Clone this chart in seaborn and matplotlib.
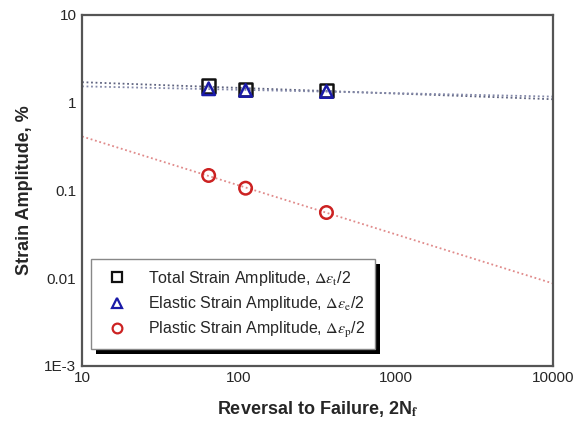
import numpy as np
import pandas as pd
import matplotlib
matplotlib.use("Agg")
import matplotlib.pyplot as plt
from matplotlib.patches import Rectangle
import seaborn as sns

# Reversals to failure and measured strain amplitudes (%)
reversals = [64, 110, 360]
total_strain = [1.55, 1.42, 1.37]
elastic_strain = [1.44, 1.38, 1.34]
plastic_strain = [0.148, 0.106, 0.056]

x_ticks = [10, 100, 1000, 10000]
x_tick_labels = ["10", "100", "1000", "10000"]
y_ticks = [0.001, 0.01, 0.1, 1, 10]
y_tick_labels = ["1E-3", "0.01", "0.1", "1", "10"]

sns.set_style("white")
plt.rcParams["font.family"] = ["Liberation Sans", "DejaVu Sans"]
plt.rcParams["mathtext.fontset"] = "stix"

fig = plt.figure(figsize=(5.86, 4.26), dpi=100)
ax = fig.add_axes([0.140, 0.141, 0.804, 0.824])
ax.set_xscale("log")
ax.set_yscale("log")

# Power-law fits drawn as dotted lines across the whole range
grid = np.logspace(1, 4, 60)
fit_styles = [
    (total_strain, "#5f6480"),
    (elastic_strain, "#8388a8"),
    (plastic_strain, "#e08a8a"),
]
for values, color in fit_styles:
    b, a = np.polyfit(np.log10(reversals), np.log10(values), 1)
    fit_df = pd.DataFrame({"x": grid, "y": 10 ** (a + b * np.log10(grid))})
    sns.lineplot(data=fit_df, x="x", y="y", ax=ax, color=color,
                 linestyle=(0, (1, 1.5)), linewidth=1.3, legend=False)

series = [
    ("Total Strain Amplitude, " + r"$\Delta\varepsilon_\mathrm{t}$" + "/2", total_strain, "s", "#111111", 9.5),
    ("Elastic Strain Amplitude, " + r"$\Delta\varepsilon_\mathrm{e}$" + "/2", elastic_strain, "^", "#1a1aa8", 9),
    ("Plastic Strain Amplitude, " + r"$\Delta\varepsilon_\mathrm{p}$" + "/2", plastic_strain, "o", "#cc2222", 9),
]
handles = []
for label, values, marker, color, size in series:
    df = pd.DataFrame({"x": reversals, "y": values})
    sns.scatterplot(data=df, x="x", y="y", ax=ax, marker=marker, s=size ** 2,
                    facecolor="none", edgecolor=color, linewidth=1.8, zorder=5)
    h, = ax.plot([], [], linestyle="none", marker=marker, markersize=7,
                 markerfacecolor="none", markeredgecolor=color, markeredgewidth=1.6,
                 label=label)
    handles.append(h)

ax.set_xlim(10, 10000)
ax.set_ylim(0.001, 10)
ax.set_xticks(x_ticks)
ax.set_xticklabels(x_tick_labels)
ax.set_yticks(y_ticks)
ax.set_yticklabels(y_tick_labels)
ax.tick_params(which="both", direction="in", top=False, right=False,
               color="#333333")
ax.tick_params(which="major", length=6, width=1.2, labelsize=11, pad=4)
ax.tick_params(which="minor", length=3, width=1.0)
for spine in ax.spines.values():
    spine.set_color("#555555")
    spine.set_linewidth(1.6)

ax.set_xlabel(r"Reversal to Failure, 2N$_\mathbf{f}$", fontsize=13,
              fontweight="bold", labelpad=10)
ax.set_ylabel("Strain Amplitude, %", fontsize=13, fontweight="bold", labelpad=8)

leg = ax.legend(handles=handles, loc="lower left",
                bbox_to_anchor=(0.019, 0.048), fontsize=11.5,
                frameon=True, fancybox=False, edgecolor="#888888",
                framealpha=1.0, borderpad=0.6, labelspacing=0.4,
                handletextpad=1.0, borderaxespad=0)
leg.get_frame().set_linewidth(1.0)
leg.get_frame().set_facecolor("white")
leg.set_zorder(10)

# Solid black drop shadow behind the legend box
fig.canvas.draw()
bb = leg.get_window_extent().transformed(fig.transFigure.inverted())
off_x, off_y = 5 / 586, -5 / 426
ax.add_patch(Rectangle((bb.x0 + off_x, bb.y0 + off_y), bb.width, bb.height,
                       transform=fig.transFigure, facecolor="black",
                       edgecolor="none", zorder=9, clip_on=False))

fig.savefig("out.png", dpi=100)
